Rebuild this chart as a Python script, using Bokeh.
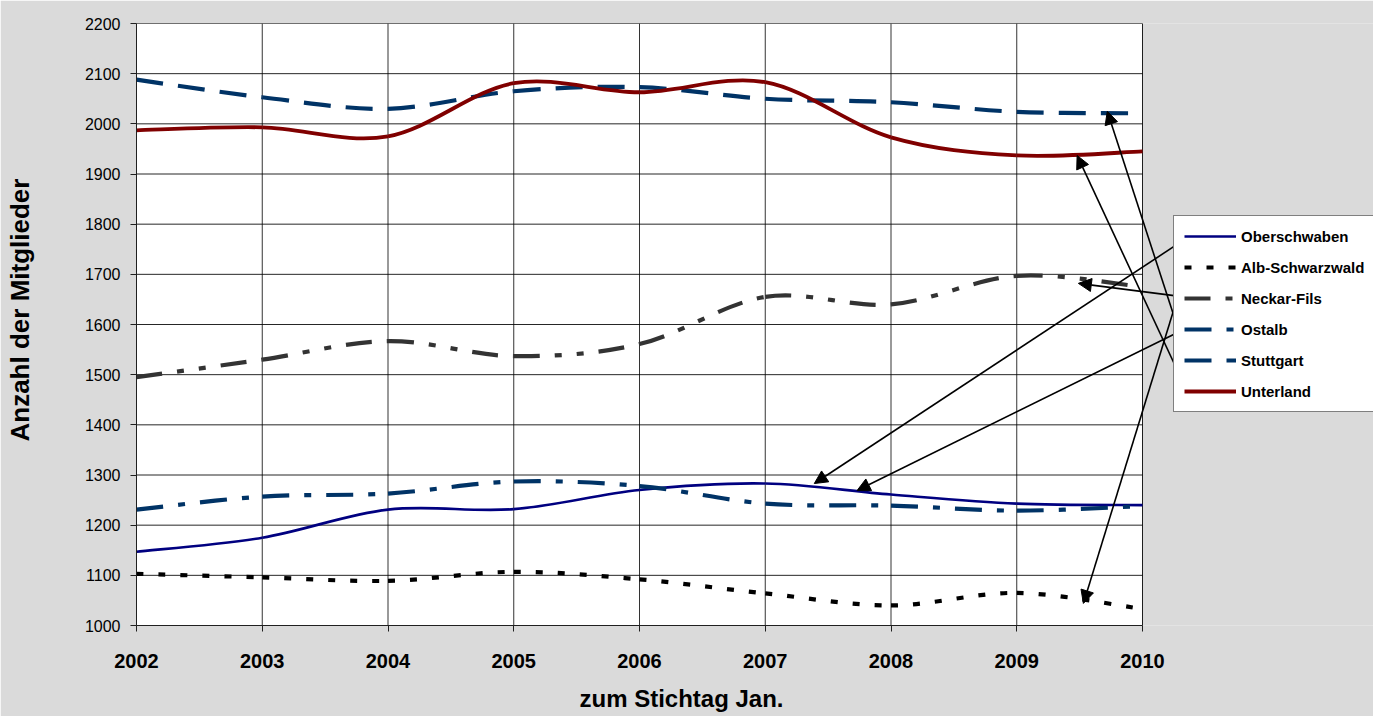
from bokeh.plotting import figure
from bokeh.models import (Range1d, FixedTicker, Legend, LegendItem, Arrow,
                          NormalHead, ColumnDataSource, Title)
from bokeh.embed import file_html
from bokeh.resources import INLINE

# ---------------- data ----------------
years = [2002, 2003, 2004, 2005, 2006, 2007, 2008, 2009, 2010]
oberschwaben = [1147, 1175, 1231, 1232, 1270, 1283, 1261, 1243, 1240]
alb_schwarzwald = [1103, 1096, 1089, 1107, 1092, 1064, 1040, 1065, 1033]
neckar_fils = [1495, 1530, 1567, 1537, 1561, 1655, 1640, 1697, 1675]
ostalb = [1231, 1257, 1263, 1287, 1278, 1243, 1239, 1229, 1238]
stuttgart = [2088, 2053, 2030, 2065, 2073, 2050, 2043, 2024, 2021]
unterland = [1987, 1993, 1975, 2081, 2063, 2083, 1973, 1937, 1945]
y_ticks = list(range(1000, 2201, 100))

series_names = ["Oberschwaben", "Alb-Schwarzwald", "Neckar-Fils", "Ostalb",
                "Stuttgart", "Unterland"]
series_values = [oberschwaben, alb_schwarzwald, neckar_fils, ostalb,
                 stuttgart, unterland]

# ---------------- styles ----------------
styles = {
    "Oberschwaben":    dict(line_color="#000080", line_width=2.6, line_dash="solid"),
    "Alb-Schwarzwald": dict(line_color="#000000", line_width=4.2, line_dash="7 15"),
    "Neckar-Fils":     dict(line_color="#333333", line_width=4.2, line_dash="26 15 7 15 7 15"),
    "Ostalb":          dict(line_color="#003366", line_width=4.2, line_dash="27 15 7 15"),
    "Stuttgart":       dict(line_color="#003366", line_width=4.2, line_dash="27 15"),
    "Unterland":       dict(line_color="#800000", line_width=3.8, line_dash="solid"),
}

# callout arrows: legend entry -> curve (data coordinates)
arrows = [
    (2010.38, 1777, 2007.39, 1283),   # Oberschwaben
    (2010.36, 1720, 2009.53, 1044),   # Alb-Schwarzwald
    (2010.36, 1654, 2009.49, 1682),   # Neckar-Fils
    (2010.36, 1594, 2007.73, 1269),   # Ostalb
    (2010.36, 1532, 2009.72, 2025),   # Stuttgart
    (2010.36, 1464, 2009.48, 1937),   # Unterland
]

FONT = "Liberation Sans"
BG = "#dadada"

# page geometry (pixels)
CANVAS_W, CANVAS_H = 1373, 716
PLOT_LEFT, PLOT_RIGHT, PLOT_TOP, PLOT_BOTTOM = 136, 1142, 23, 625
# the frame spans to the right edge so legend + callouts can be drawn there
x_end = years[0] + (years[-1] - years[0]) * (CANVAS_W - PLOT_LEFT) / (PLOT_RIGHT - PLOT_LEFT)


def smooth_segments(xs, ys):
    """Bezier control points for a smoothed (Excel-like) line."""
    n = len(xs)
    d = dict(x0=[], y0=[], x1=[], y1=[], cx0=[], cy0=[], cx1=[], cy1=[])
    for i in range(n - 1):
        a = max(i - 1, 0)
        b = min(i + 2, n - 1)
        d["x0"].append(xs[i]); d["y0"].append(ys[i])
        d["x1"].append(xs[i + 1]); d["y1"].append(ys[i + 1])
        d["cx0"].append(xs[i] + (xs[i + 1] - xs[a]) / 6)
        d["cy0"].append(ys[i] + (ys[i + 1] - ys[a]) / 6)
        d["cx1"].append(xs[i + 1] - (xs[b] - xs[i]) / 6)
        d["cy1"].append(ys[i + 1] - (ys[b] - ys[i]) / 6)
    return d


p = figure(width=CANVAS_W, height=CANVAS_H, output_backend="svg",
           toolbar_location=None,
           x_range=Range1d(years[0], x_end), y_range=Range1d(y_ticks[0], y_ticks[-1]),
           min_border_left=PLOT_LEFT, min_border_right=0,
           min_border_top=PLOT_TOP, min_border_bottom=CANVAS_H - PLOT_BOTTOM)

p.background_fill_color = BG
p.border_fill_color = BG
p.outline_line_color = None
p.xgrid.visible = False
p.ygrid.visible = False

# white plot area + grid
p.quad(left=years[0], right=years[-1], bottom=y_ticks[0], top=y_ticks[-1],
       fill_color="white", line_color="#9a9a9a", line_width=1)
p.segment(x0=years, x1=years, y0=[y_ticks[0]] * len(years),
          y1=[y_ticks[-1]] * len(years), line_color="black", line_alpha=0.8,
          line_width=1)
p.segment(x0=[years[0]] * len(y_ticks), x1=[years[-1]] * len(y_ticks),
          y0=y_ticks, y1=y_ticks, line_color="black", line_alpha=0.85,
          line_width=1)

# axes
p.xaxis.ticker = FixedTicker(ticks=years)
p.yaxis.ticker = FixedTicker(ticks=y_ticks)
p.xaxis.bounds = (years[0], years[-1])
p.xaxis.minor_tick_line_color = None
p.yaxis.minor_tick_line_color = None
for ax in (p.xaxis[0], p.yaxis[0]):
    ax.major_tick_out = 6
    ax.major_tick_in = 0
    ax.axis_line_color = "#202020"
    ax.major_tick_line_color = "#202020"
    ax.major_label_text_font = FONT
    ax.major_label_text_color = "black"

p.xaxis.major_label_text_font_size = "20px"
p.xaxis.major_label_text_font_style = "bold"
p.xaxis.major_label_standoff = 22

p.yaxis.major_label_text_font_size = "16px"
p.yaxis.major_label_standoff = 10

# axis titles (positioned like the reference); blank spacer panels push
# them away from the tick labels
p.add_layout(Title(text="\u00a0", text_font_size="8px", standoff=1), "below")
p.add_layout(Title(text="zum Stichtag Jan.", align="left", offset=443,
                   vertical_align="bottom",
                   text_font=FONT, text_font_style="bold",
                   text_font_size="24px", text_color="black",
                   standoff=0), "below")
p.add_layout(Title(text="\u00a0", text_font_size="8px", standoff=36), "left")
p.add_layout(Title(text="Anzahl der Mitglieder", align="left", offset=184,
                   vertical_align="bottom",
                   text_font=FONT, text_font_style="bold",
                   text_font_size="26px", text_color="black",
                   standoff=0), "left")

# curves
items = []
for name, vals in zip(series_names, series_values):
    st = styles[name]
    src = ColumnDataSource(smooth_segments(years, vals))
    r = p.bezier(x0="x0", y0="y0", x1="x1", y1="y1", cx0="cx0", cy0="cy0",
                 cx1="cx1", cy1="cy1", source=src, **st)
    items.append(LegendItem(label=name, renderers=[r], index=0))

legend = Legend(items=items, location=(1037, 213), padding=10, spacing=11,
                glyph_width=52, glyph_height=20, label_height=20,
                label_standoff=5, margin=0,
                border_line_color="black", border_line_width=1,
                background_fill_color="white", background_fill_alpha=1,
                label_text_font=FONT, label_text_font_style="bold",
                label_text_font_size="15px", label_text_color="black")
p.add_layout(legend)

for xs, ys, xe, ye in arrows:
    p.add_layout(Arrow(end=NormalHead(size=13, fill_color="black",
                                      line_color="black"),
                       x_start=xs, y_start=ys, x_end=xe, y_end=ye,
                       line_color="black", line_width=1.6, level="overlay"))

open("out.html", "w").write(file_html(p, INLINE))
